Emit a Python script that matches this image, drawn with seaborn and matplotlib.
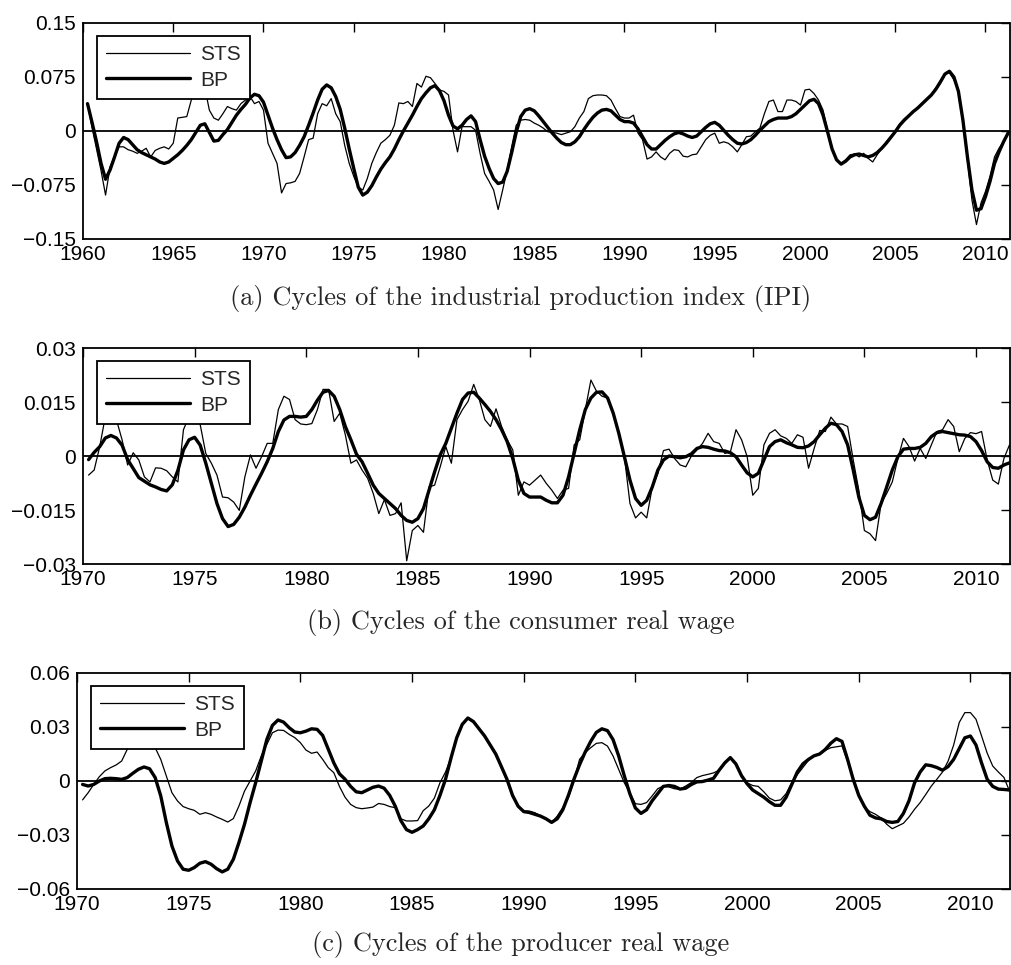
import numpy as np
import matplotlib
matplotlib.use('Agg')
import matplotlib.pyplot as plt
import seaborn as sns

# quarterly cycles, first observation given by *_start
ipi_start = 1960.25
ipi_sts = [
    0.038, 0.005, -0.025,
    -0.055, -0.089, -0.050, -0.035,
    -0.022, -0.022, -0.026, -0.028,
    -0.031, -0.028, -0.024, -0.036,
    -0.027, -0.024, -0.022, -0.025,
    -0.017, 0.018, 0.019, 0.020,
    0.043, 0.062, 0.072, 0.060,
    0.029, 0.018, 0.015, 0.024,
    0.034, 0.031, 0.029, 0.038,
    0.043, 0.048, 0.038, 0.041,
    0.029, -0.017, -0.031, -0.045,
    -0.086, -0.073, -0.072, -0.070,
    -0.059, -0.036, -0.012, -0.010,
    0.024, 0.038, 0.035, 0.045,
    0.024, 0.013, -0.020, -0.045,
    -0.063, -0.078, -0.082, -0.066,
    -0.045, -0.030, -0.017, -0.012,
    -0.006, 0.008, 0.039, 0.038,
    0.041, 0.034, 0.066, 0.061,
    0.076, 0.074, 0.066, 0.057,
    0.055, 0.050, 0.001, -0.029,
    0.006, 0.006, 0.006, 0.001,
    -0.031, -0.059, -0.070, -0.082,
    -0.109, -0.082, -0.054, -0.022,
    0.008, 0.015, 0.016, 0.015,
    0.011, 0.008, 0.004, -0.001,
    -0.002, -0.003, -0.005, -0.003,
    -0.001, 0.006, 0.018, 0.027,
    0.045, 0.049, 0.050, 0.050,
    0.049, 0.043, 0.031, 0.020,
    0.018, 0.018, 0.022, -0.003,
    -0.012, -0.039, -0.036, -0.029,
    -0.036, -0.040, -0.031, -0.026,
    -0.027, -0.035, -0.036, -0.033,
    -0.032, -0.022, -0.012, -0.006,
    -0.003, -0.017, -0.015, -0.017,
    -0.022, -0.029, -0.019, -0.008,
    -0.007, -0.001, 0.004, 0.024,
    0.041, 0.043, 0.027, 0.027,
    0.043, 0.043, 0.041, 0.036,
    0.057, 0.058, 0.052, 0.043,
    0.029, 0.001, -0.024, -0.040,
    -0.045, -0.040, -0.033, -0.032,
    -0.036, -0.031, -0.038, -0.043,
    -0.033, -0.024, -0.015, -0.008,
    0.000, 0.010, 0.017, 0.022,
    0.027, 0.033, 0.039, 0.045,
    0.051, 0.060, 0.070, 0.079,
    0.081, 0.071, 0.055, 0.011,
    -0.040, -0.096, -0.130, -0.100,
    -0.084, -0.063, -0.036, -0.024,
    -0.015, -0.001,
]
ipi_bp = [
    0.038, 0.012, -0.015,
    -0.045, -0.067, -0.054, -0.036,
    -0.017, -0.009, -0.012, -0.019,
    -0.026, -0.030, -0.033, -0.036,
    -0.039, -0.043, -0.045, -0.043,
    -0.038, -0.033, -0.027, -0.020,
    -0.012, -0.002, 0.008, 0.010,
    -0.002, -0.014, -0.013, -0.005,
    0.002, 0.012, 0.022, 0.030,
    0.037, 0.046, 0.051, 0.049,
    0.040, 0.022, 0.004, -0.012,
    -0.026, -0.037, -0.036, -0.030,
    -0.020, -0.008, 0.008, 0.025,
    0.043, 0.058, 0.064, 0.060,
    0.048, 0.030, 0.004, -0.025,
    -0.052, -0.078, -0.089, -0.085,
    -0.076, -0.064, -0.053, -0.044,
    -0.036, -0.025, -0.012, 0.000,
    0.011, 0.022, 0.034, 0.045,
    0.053, 0.060, 0.063, 0.056,
    0.042, 0.022, 0.007, 0.003,
    0.008, 0.016, 0.021, 0.013,
    -0.012, -0.035, -0.052, -0.066,
    -0.073, -0.071, -0.056, -0.030,
    -0.002, 0.020, 0.029, 0.031,
    0.028, 0.021, 0.013, 0.005,
    -0.003, -0.010, -0.016, -0.019,
    -0.019, -0.015, -0.008, 0.002,
    0.011, 0.019, 0.025, 0.029,
    0.030, 0.028, 0.022, 0.016,
    0.013, 0.013, 0.011, 0.003,
    -0.008, -0.019, -0.025, -0.025,
    -0.019, -0.013, -0.008, -0.004,
    -0.002, -0.004, -0.007, -0.009,
    -0.007, -0.001, 0.005, 0.010,
    0.012, 0.008, 0.001, -0.006,
    -0.012, -0.017, -0.018, -0.016,
    -0.012, -0.006, 0.001, 0.007,
    0.013, 0.016, 0.018, 0.018,
    0.018, 0.020, 0.024, 0.030,
    0.036, 0.042, 0.044, 0.038,
    0.022, -0.001, -0.025, -0.040,
    -0.046, -0.042, -0.036, -0.033,
    -0.032, -0.034, -0.036, -0.034,
    -0.030, -0.024, -0.017, -0.009,
    -0.001, 0.008, 0.015, 0.021,
    0.027, 0.032, 0.038, 0.044,
    0.050, 0.058, 0.068, 0.079,
    0.083, 0.075, 0.055, 0.015,
    -0.036, -0.082, -0.110, -0.108,
    -0.091, -0.070, -0.045, -0.029,
    -0.015, -0.003,
]

cwage_start = 1970.25
cwage_sts = [
    -0.0053, -0.0039, 0.0026,
    0.0110, 0.0130, 0.0100, 0.0045,
    -0.0025, 0.0009, -0.0011, -0.0058,
    -0.0072, -0.0033, -0.0034, -0.0041,
    -0.0058, -0.0072, 0.0073, 0.0110,
    0.0130, 0.0087, 0.0007, -0.0020,
    -0.0053, -0.0114, -0.0116, -0.0128,
    -0.0151, -0.0058, 0.0003, -0.0034,
    -0.0002, 0.0035, 0.0035, 0.0129,
    0.0166, 0.0157, 0.0101, 0.0089,
    0.0087, 0.0090, 0.0129, 0.0185,
    0.0185, 0.0096, 0.0119, 0.0059,
    -0.0020, -0.0011, -0.0039, -0.0062,
    -0.0104, -0.0160, -0.0121, -0.0165,
    -0.0160, -0.0130, -0.0291, -0.0207,
    -0.0193, -0.0212, -0.0086, -0.0081,
    -0.0030, 0.0026, -0.0020, 0.0101,
    0.0129, 0.0152, 0.0199, 0.0157,
    0.0101, 0.0082, 0.0131, 0.0082,
    0.0045, 0.0017, -0.0109, -0.0072,
    -0.0081, -0.0067, -0.0053, -0.0076,
    -0.0095, -0.0118, -0.0095, -0.0090,
    0.0031, 0.0045, 0.0129, 0.0211,
    0.0180, 0.0166, 0.0161, 0.0119,
    0.0063, -0.0002, -0.0132, -0.0172,
    -0.0156, -0.0172, -0.0086, -0.0048,
    0.0015, 0.0019, -0.0007, -0.0025,
    -0.0030, 0.0000, 0.0017, 0.0035,
    0.0063, 0.0040, 0.0035, 0.0007,
    0.0012, 0.0073, 0.0045, -0.0002,
    -0.0109, -0.0090, 0.0031, 0.0063,
    0.0073, 0.0056, 0.0049, 0.0035,
    0.0059, 0.0052, -0.0034, 0.0021,
    0.0071, 0.0068, 0.0108, 0.0089,
    0.0089, 0.0082, -0.0011, -0.0095,
    -0.0207, -0.0216, -0.0235, -0.0132,
    -0.0104, -0.0072, -0.0007, 0.0049,
    0.0026, -0.0014, 0.0021, -0.0007,
    0.0031, 0.0068, 0.0073, 0.0101,
    0.0082, 0.0012, 0.0049, 0.0065,
    0.0062, 0.0068, -0.0011, -0.0067,
    -0.0078, -0.0007, 0.0031,
]
cwage_bp = [
    -0.0010, 0.0010, 0.0026,
    0.0050, 0.0057, 0.0050, 0.0030,
    -0.0010, -0.0035, -0.0060, -0.0070,
    -0.0080, -0.0086, -0.0093, -0.0097,
    -0.0080, -0.0040, 0.0017, 0.0045,
    0.0052, 0.0030, -0.0020, -0.0076,
    -0.0132, -0.0174, -0.0196, -0.0190,
    -0.0170, -0.0142, -0.0109, -0.0078,
    -0.0048, -0.0016, 0.0021, 0.0068,
    0.0100, 0.0110, 0.0110, 0.0108,
    0.0110, 0.0129, 0.0155, 0.0177,
    0.0182, 0.0166, 0.0129, 0.0082,
    0.0045, 0.0005, -0.0016, -0.0048,
    -0.0081, -0.0104, -0.0118, -0.0132,
    -0.0146, -0.0165, -0.0179, -0.0184,
    -0.0174, -0.0146, -0.0095, -0.0044,
    0.0003, 0.0035, 0.0077, 0.0119,
    0.0157, 0.0175, 0.0177, 0.0161,
    0.0143, 0.0124, 0.0101, 0.0073,
    0.0040, -0.0007, -0.0067, -0.0104,
    -0.0114, -0.0114, -0.0114, -0.0123,
    -0.0130, -0.0130, -0.0109, -0.0058,
    0.0007, 0.0073, 0.0129, 0.0161,
    0.0177, 0.0178, 0.0161, 0.0119,
    0.0063, -0.0002, -0.0067, -0.0118,
    -0.0137, -0.0123, -0.0086, -0.0039,
    -0.0011, 0.0000, -0.0002, -0.0005,
    -0.0002, 0.0006, 0.0021, 0.0026,
    0.0024, 0.0019, 0.0015, 0.0014,
    0.0009, -0.0002, -0.0025, -0.0047,
    -0.0058, -0.0048, -0.0011, 0.0026,
    0.0040, 0.0045, 0.0037, 0.0031,
    0.0024, 0.0023, 0.0028, 0.0040,
    0.0059, 0.0077, 0.0091, 0.0087,
    0.0068, 0.0031, -0.0039, -0.0114,
    -0.0165, -0.0177, -0.0170, -0.0132,
    -0.0086, -0.0039, -0.0002, 0.0019,
    0.0021, 0.0021, 0.0024, 0.0035,
    0.0054, 0.0065, 0.0068, 0.0065,
    0.0062, 0.0059, 0.0058, 0.0054,
    0.0040, 0.0015, -0.0016, -0.0032,
    -0.0034, -0.0025, -0.0019,
]

pwage_start = 1970.25
pwage_sts = [
    -0.0105, -0.0065, -0.0019,
    0.0024, 0.0056, 0.0074, 0.0089,
    0.0111, 0.0176, 0.0220, 0.0240,
    0.0240, 0.0220, 0.0185, 0.0120,
    0.0028, -0.0065, -0.0111, -0.0142,
    -0.0154, -0.0163, -0.0185, -0.0176,
    -0.0185, -0.0200, -0.0213, -0.0228,
    -0.0209, -0.0139, -0.0056, 0.0000,
    0.0056, 0.0139, 0.0204, 0.0268,
    0.0283, 0.0281, 0.0259, 0.0241,
    0.0213, 0.0172, 0.0154, 0.0161,
    0.0120, 0.0074, 0.0046, -0.0030,
    -0.0090, -0.0130, -0.0148, -0.0154,
    -0.0150, -0.0145, -0.0125, -0.0130,
    -0.0142, -0.0148, -0.0210, -0.0222,
    -0.0222, -0.0220, -0.0165, -0.0139,
    -0.0095, -0.0010, 0.0050, 0.0130,
    0.0240, 0.0320, 0.0350, 0.0325,
    0.0290, 0.0255, 0.0200, 0.0140,
    0.0080, 0.0000, -0.0083, -0.0140,
    -0.0167, -0.0167, -0.0176, -0.0194,
    -0.0213, -0.0231, -0.0195, -0.0148,
    -0.0093, 0.0000, 0.0120, 0.0157,
    0.0185, 0.0209, 0.0213, 0.0194,
    0.0139, 0.0065, -0.0009, -0.0065,
    -0.0126, -0.0130, -0.0120, -0.0083,
    -0.0043, -0.0028, -0.0033, -0.0043,
    -0.0046, -0.0028, -0.0009, 0.0019,
    0.0030, 0.0037, 0.0045, 0.0060,
    0.0105, 0.0130, 0.0095, 0.0030,
    -0.0010, -0.0025, -0.0030, -0.0060,
    -0.0095, -0.0110, -0.0105, -0.0070,
    -0.0010, 0.0035, 0.0075, 0.0115,
    0.0140, 0.0150, 0.0170, 0.0185,
    0.0190, 0.0195, 0.0110, 0.0010,
    -0.0070, -0.0145, -0.0170, -0.0185,
    -0.0205, -0.0240, -0.0265, -0.0250,
    -0.0235, -0.0200, -0.0157, -0.0120,
    -0.0075, -0.0028, 0.0010, 0.0050,
    0.0110, 0.0200, 0.0325, 0.0380,
    0.0380, 0.0343, 0.0250, 0.0155,
    0.0083, 0.0050, 0.0020, -0.0056,
]
pwage_bp = [
    -0.0019, -0.0028, -0.0019,
    0.0000, 0.0013, 0.0015, 0.0013,
    0.0009, 0.0019, 0.0043, 0.0065,
    0.0078, 0.0068, 0.0019, -0.0083,
    -0.0231, -0.0361, -0.0444, -0.0490,
    -0.0496, -0.0481, -0.0457, -0.0448,
    -0.0462, -0.0487, -0.0505, -0.0490,
    -0.0435, -0.0342, -0.0240, -0.0120,
    -0.0009, 0.0111, 0.0231, 0.0309,
    0.0339, 0.0327, 0.0296, 0.0272,
    0.0268, 0.0277, 0.0290, 0.0287,
    0.0253, 0.0176, 0.0100, 0.0040,
    0.0010, -0.0030, -0.0060, -0.0065,
    -0.0050, -0.0035, -0.0028, -0.0040,
    -0.0080, -0.0140, -0.0220, -0.0270,
    -0.0285, -0.0270, -0.0250, -0.0210,
    -0.0160, -0.0080, 0.0010, 0.0130,
    0.0240, 0.0315, 0.0350, 0.0330,
    0.0290, 0.0250, 0.0200, 0.0150,
    0.0080, 0.0010, -0.0080, -0.0140,
    -0.0170, -0.0175, -0.0185, -0.0195,
    -0.0210, -0.0230, -0.0210, -0.0160,
    -0.0080, 0.0010, 0.0090, 0.0160,
    0.0220, 0.0270, 0.0290, 0.0280,
    0.0230, 0.0140, 0.0030, -0.0070,
    -0.0150, -0.0180, -0.0160, -0.0110,
    -0.0070, -0.0030, -0.0025, -0.0030,
    -0.0045, -0.0040, -0.0020, -0.0005,
    -0.0003, 0.0005, 0.0015, 0.0060,
    0.0100, 0.0130, 0.0095, 0.0030,
    -0.0015, -0.0050, -0.0070, -0.0090,
    -0.0115, -0.0135, -0.0135, -0.0090,
    -0.0020, 0.0050, 0.0095, 0.0120,
    0.0140, 0.0150, 0.0175, 0.0210,
    0.0235, 0.0220, 0.0120, 0.0010,
    -0.0080, -0.0140, -0.0190, -0.0205,
    -0.0210, -0.0225, -0.0230, -0.0225,
    -0.0180, -0.0110, -0.0010, 0.0050,
    0.0090, 0.0085, 0.0075, 0.0060,
    0.0080, 0.0120, 0.0180, 0.0240,
    0.0250, 0.0200, 0.0100, 0.0010,
    -0.0030, -0.0045, -0.0047, -0.0050,
]

panels = [
    dict(start=ipi_start, sts=ipi_sts, bp=ipi_bp,
         xlim=(1960, 2011.33), xticks=list(range(1960, 2011, 5)),
         yticks=[-0.15, -0.075, 0, 0.075, 0.15],
         ylabels=['\u22120.15', '\u22120.075', '0', '0.075', '0.15'],
         caption='(a) Cycles of the industrial production index (IPI)'),
    dict(start=cwage_start, sts=cwage_sts, bp=cwage_bp,
         xlim=(1970, 2011.5), xticks=list(range(1970, 2011, 5)),
         yticks=[-0.03, -0.015, 0, 0.015, 0.03],
         ylabels=['\u22120.03', '\u22120.015', '0', '0.015', '0.03'],
         caption='(b) Cycles of the consumer real wage'),
    dict(start=pwage_start, sts=pwage_sts, bp=pwage_bp,
         xlim=(1970, 2011.75), xticks=list(range(1970, 2011, 5)),
         yticks=[-0.06, -0.03, 0, 0.03, 0.06],
         ylabels=['\u22120.06', '\u22120.03', '0', '0.03', '0.06'],
         caption='(c) Cycles of the producer real wage'),
]

sns.set_theme(style='white')
plt.rcParams['font.family'] = ['Liberation Sans', 'DejaVu Sans']
plt.rcParams['axes.edgecolor'] = 'black'
plt.rcParams['axes.linewidth'] = 1.3

W, H = 1011, 965
fig = plt.figure(figsize=(W / 100, H / 100), dpi=100)

# axes boxes in pixels: left, top, right, bottom
boxes = [(83, 23, 1009.5, 239), (83, 348, 1009.5, 564), (77, 673, 1009.5, 889)]
caption_y = [298, 623, 945]

for p, (l, t, r, b), cy in zip(panels, boxes, caption_y):
    ax = fig.add_axes([l / W, 1 - b / H, (r - l) / W, (b - t) / H])
    years = p['start'] + 0.25 * np.arange(len(p['sts']))
    ax.axhline(0, color='black', lw=1.3, zorder=1)
    sns.lineplot(x=years, y=p['sts'], ax=ax, color='black', lw=0.9, label='STS')
    sns.lineplot(x=years, y=p['bp'], ax=ax, color='black', lw=2.4, label='BP')
    ax.set_xlim(*p['xlim'])
    ax.set_ylim(p['yticks'][0], p['yticks'][-1])
    ax.set_xticks(p['xticks'])
    ax.set_xticklabels([str(x) for x in p['xticks']])
    ax.set_yticks(p['yticks'])
    ax.set_yticklabels(p['ylabels'])
    ax.tick_params(direction='in', length=6.5, width=1.0, top=True, right=True,
                   labelsize=15, colors='black')
    ax.tick_params(axis='x', pad=4.5)
    ax.tick_params(axis='y', pad=5)
    for s in ax.spines.values():
        s.set_visible(True)
        s.set_color('black')
    ax.set_xlabel('')
    ax.set_ylabel('')
    leg = ax.legend(loc='upper left', bbox_to_anchor=(14 / (r - l), 1 - 13 / (b - t)),
                    borderaxespad=0, fontsize=15, handlelength=4.0, handletextpad=0.5,
                    borderpad=0.45, labelspacing=0.3, fancybox=False, framealpha=1,
                    edgecolor='black')
    leg.get_frame().set_linewidth(1.3)
    fig.text(521 / W, 1 - cy / H, p['caption'], ha='center', va='center',
             fontsize=19, family='cmr10')

fig.savefig('out.png', dpi=100)
